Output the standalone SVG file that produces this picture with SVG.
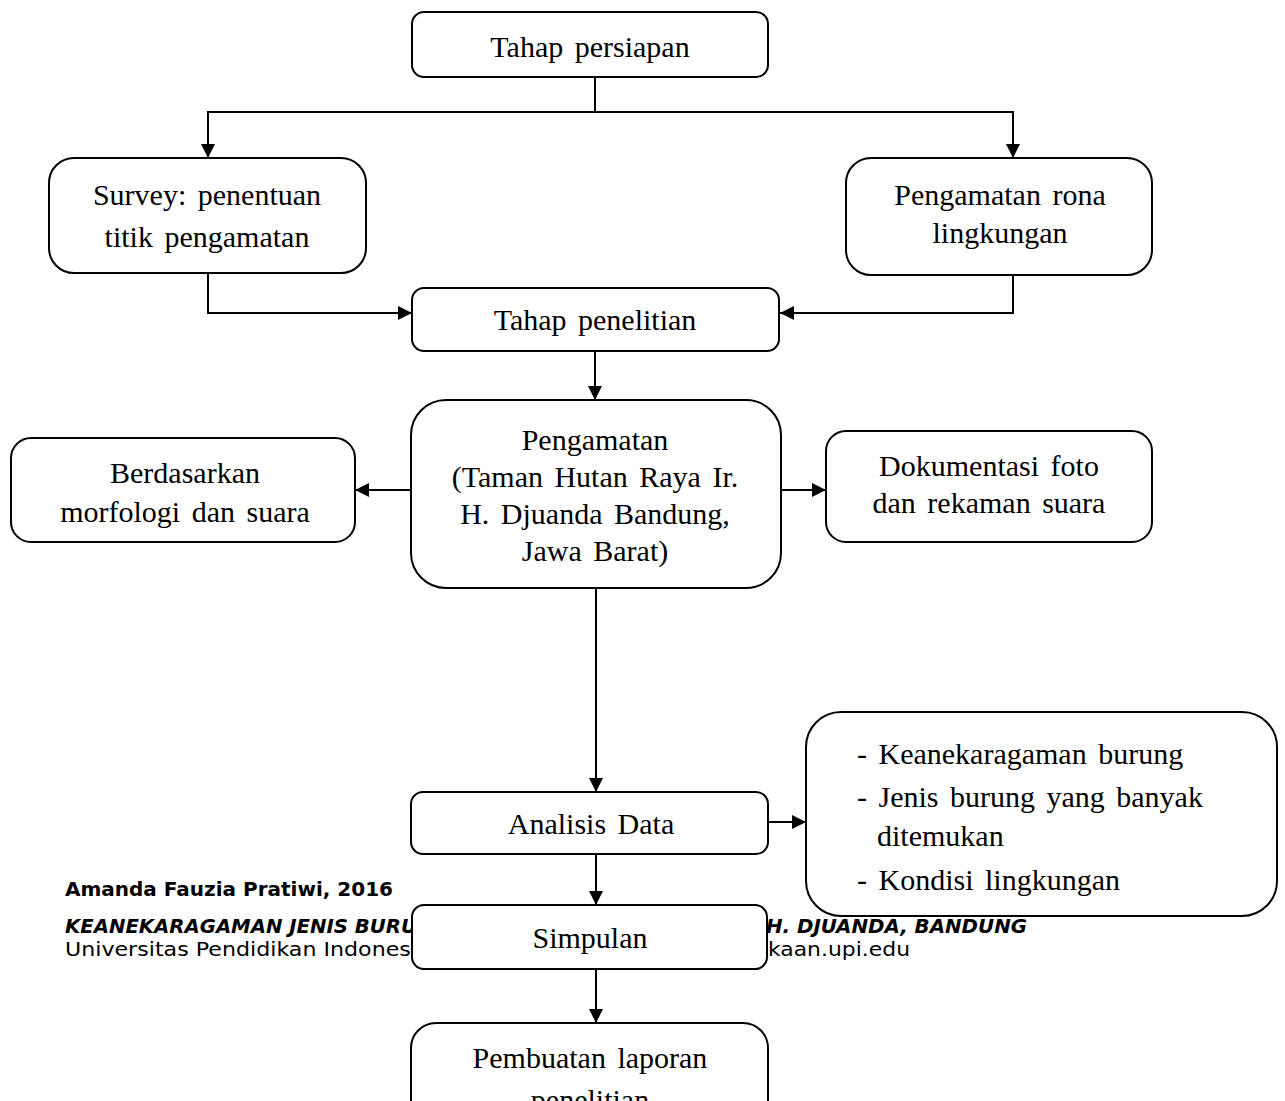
<svg xmlns="http://www.w3.org/2000/svg" width="1285" height="1101" viewBox="0 0 1285 1101">
<style>
.box{fill:#fff;stroke:#000;stroke-width:2}
.t{font-family:'Liberation Serif','Times New Roman',Times,serif;font-size:30px;fill:#000;text-anchor:middle;word-spacing:4px}
.tl{font-family:'Liberation Serif','Times New Roman',Times,serif;font-size:30px;fill:#000;word-spacing:4px}
.c{fill:none;stroke:#000;stroke-width:2}
.f{font-family:'DejaVu Sans',sans-serif;font-size:19px;fill:#000}
</style>
<defs>
<marker id="ah" markerUnits="userSpaceOnUse" markerWidth="14" markerHeight="14" refX="14" refY="7" orient="auto">
<path d="M0,0 L14,7 L0,14 z" fill="#000"/>
</marker>
</defs>
<rect width="1285" height="1101" fill="#fff"/>
<g id="footer">
<text class="f" x="65" y="896" font-weight="bold" textLength="328" lengthAdjust="spacingAndGlyphs">Amanda Fauzia Pratiwi, 2016</text>
<text class="f" x="65" y="933" font-weight="bold" font-style="italic" textLength="352" lengthAdjust="spacingAndGlyphs">KEANEKARAGAMAN JENIS BURU</text>
<text class="f" x="766" y="933" font-weight="bold" font-style="italic" textLength="261" lengthAdjust="spacingAndGlyphs">H. DJUANDA, BANDUNG</text>
<text class="f" x="65" y="956" textLength="352" lengthAdjust="spacingAndGlyphs">Universitas Pendidikan Indonesi</text>
<text class="f" x="768" y="956" textLength="142" lengthAdjust="spacingAndGlyphs">kaan.upi.edu</text>
</g>
<g id="connectors">
<path class="c" d="M595,77 V112 H208 V158" marker-end="url(#ah)"/>
<path class="c" d="M595,112 H1013 V158" marker-end="url(#ah)"/>
<path class="c" d="M208,273 V313 H412" marker-end="url(#ah)"/>
<path class="c" d="M1013,275 V313 H780" marker-end="url(#ah)"/>
<path class="c" d="M595,351 V400" marker-end="url(#ah)"/>
<path class="c" d="M411,490 H355" marker-end="url(#ah)"/>
<path class="c" d="M781,490 H826" marker-end="url(#ah)"/>
<path class="c" d="M596,588 V792" marker-end="url(#ah)"/>
<path class="c" d="M768,822 H806" marker-end="url(#ah)"/>
<path class="c" d="M596,854 V905" marker-end="url(#ah)"/>
<path class="c" d="M596,969 V1023" marker-end="url(#ah)"/>
</g>
<g id="tahap-persiapan">
<rect class="box" x="412" y="12" width="356" height="65" rx="12"/>
<text class="t" x="590" y="57">Tahap persiapan</text>
</g>
<g id="survey">
<rect class="box" x="49" y="158" width="317" height="115" rx="25"/>
<text class="t" x="207" y="205">Survey: penentuan</text>
<text class="t" x="207" y="247">titik pengamatan</text>
</g>
<g id="pengamatan-rona">
<rect class="box" x="846" y="158" width="306" height="117" rx="25"/>
<text class="t" x="1000" y="205">Pengamatan rona</text>
<text class="t" x="1000" y="243">lingkungan</text>
</g>
<g id="tahap-penelitian">
<rect class="box" x="412" y="288" width="367" height="63" rx="12"/>
<text class="t" x="595" y="330">Tahap penelitian</text>
</g>
<g id="pengamatan">
<rect class="box" x="411" y="400" width="370" height="188" rx="35"/>
<text class="t" x="595" y="450">Pengamatan</text>
<text class="t" x="595" y="487">(Taman Hutan Raya Ir.</text>
<text class="t" x="595" y="524">H. Djuanda Bandung,</text>
<text class="t" x="595" y="561">Jawa Barat)</text>
</g>
<g id="berdasarkan">
<rect class="box" x="11" y="438" width="344" height="104" rx="20"/>
<text class="t" x="185" y="483">Berdasarkan</text>
<text class="t" x="185" y="522">morfologi dan suara</text>
</g>
<g id="dokumentasi">
<rect class="box" x="826" y="431" width="326" height="111" rx="20"/>
<text class="t" x="989" y="476">Dokumentasi foto</text>
<text class="t" x="989" y="513">dan rekaman suara</text>
</g>
<g id="analisis">
<rect class="box" x="411" y="792" width="357" height="62" rx="12"/>
<text class="t" x="591" y="834">Analisis Data</text>
</g>
<g id="hasil">
<rect class="box" x="806" y="712" width="471" height="204" rx="35"/>
<text class="tl" x="857" y="764">- Keanekaragaman burung</text>
<text class="tl" x="857" y="807">- Jenis burung yang banyak</text>
<text class="tl" x="877" y="846">ditemukan</text>
<text class="tl" x="857" y="890">- Kondisi lingkungan</text>
</g>
<g id="simpulan">
<rect class="box" x="412" y="905" width="355" height="64" rx="12"/>
<text class="t" x="590" y="948">Simpulan</text>
</g>
<g id="pembuatan">
<rect class="box" x="411" y="1023" width="357" height="120" rx="25"/>
<text class="t" x="590" y="1068">Pembuatan laporan</text>
<text class="t" x="590" y="1110">penelitian</text>
</g>
</svg>
